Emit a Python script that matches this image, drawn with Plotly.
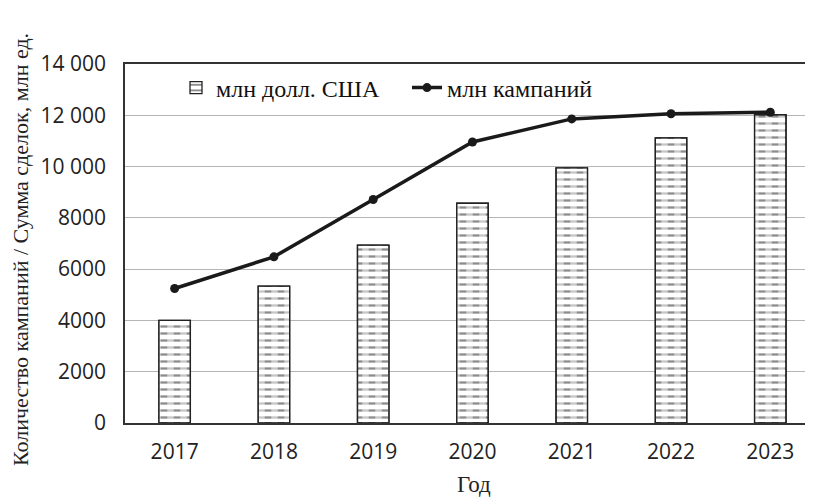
import plotly.graph_objects as go

years = ["2017", "2018", "2019", "2020", "2021", "2022", "2023"]
deals_usd = [4000, 5335, 6935, 8570, 9950, 11120, 12020]
campaigns = [5245, 6480, 8716, 10960, 11860, 12060, 12120]
y_tickvals = [0, 2000, 4000, 6000, 8000, 10000, 12000, 14000]
y_ticktext = ["0", "2000", "4000", "6000", "8000", "10 000", "12 000", "14 000"]

serif = "Liberation Serif, Times New Roman, serif"
sans = "Open Sans, Liberation Sans, sans-serif"

# page is offset by the 8px body margin; figure sized so the plot lands where the reference has it
W, H = 805, 489
L, T, B = 117, 56, 74
PW, PH = W - L, H - T - B


def px(page_x):
    return (page_x - 8 - L) / PW


def py(page_y):
    return (H - B + 8 - page_y) / PH


fig = go.Figure()
# dash rows (horizontal lines)
fig.add_trace(go.Bar(
    x=years, y=deals_usd, name="млн долл. США", width=0.317,
    marker=dict(color="white", line=dict(color="#222", width=1.3),
                pattern=dict(shape="-", fgcolor="#1a1a1a", bgcolor="white",
                             size=7, solidity=0.33)),
))
# white vertical gaps breaking the rows into dashes, plus outline
fig.add_trace(go.Bar(
    x=years, y=deals_usd, name="млн долл. США", width=0.317, showlegend=False,
    marker=dict(color="rgba(0,0,0,0)", line=dict(color="#222", width=1.3),
                pattern=dict(shape="|", fgcolor="white", bgcolor="rgba(0,0,0,0)",
                             size=13, solidity=0.5)),
    hoverinfo="skip",
))
fig.add_trace(go.Scatter(
    x=years, y=campaigns, name="млн кампаний", mode="lines+markers",
    line=dict(color="#1a1a1a", width=3.5), marker=dict(color="#1a1a1a", size=9),
))

fig.update_layout(
    width=W, height=H,
    margin=dict(l=L, r=0, t=T, b=B),
    plot_bgcolor="white", paper_bgcolor="white",
    barmode="overlay",
    showlegend=True,
    legend=dict(orientation="h", x=px(176), y=py(88), xanchor="left", yanchor="middle",
                font=dict(family=serif, size=24, color="#111"),
                bgcolor="rgba(0,0,0,0)", itemwidth=30, entrywidth=186),
    xaxis=dict(range=[-0.5, 6.43], showline=True, linecolor="#333", linewidth=1.5,
               mirror=True, ticks="", showgrid=False, ticklabelstandoff=9,
               tickfont=dict(family=sans, size=21, color="#222")),
    yaxis=dict(range=[0, 14000], tickvals=y_tickvals, ticktext=y_ticktext,
               showline=True, linecolor="#333", linewidth=1.5, ticks="",
               showgrid=True, gridcolor="#b5b5b5", gridwidth=1,
               tickfont=dict(family=sans, size=21, color="#222"), ticklabelstandoff=13),
    annotations=[
        dict(text="Количество кампаний / Сумма сделок, млн ед.", textangle=-90,
             xref="paper", yref="paper", x=px(21), y=py(250),
             xanchor="center", yanchor="middle", showarrow=False, borderpad=0,
             font=dict(family=serif, size=22, color="#222")),
        dict(text="Год", xref="paper", yref="paper", x=px(474),
             y=py(484), xanchor="center", yanchor="middle", showarrow=False,
             font=dict(family=serif, size=23, color="#222")),
    ],
)

fig.write_html("out.html")
